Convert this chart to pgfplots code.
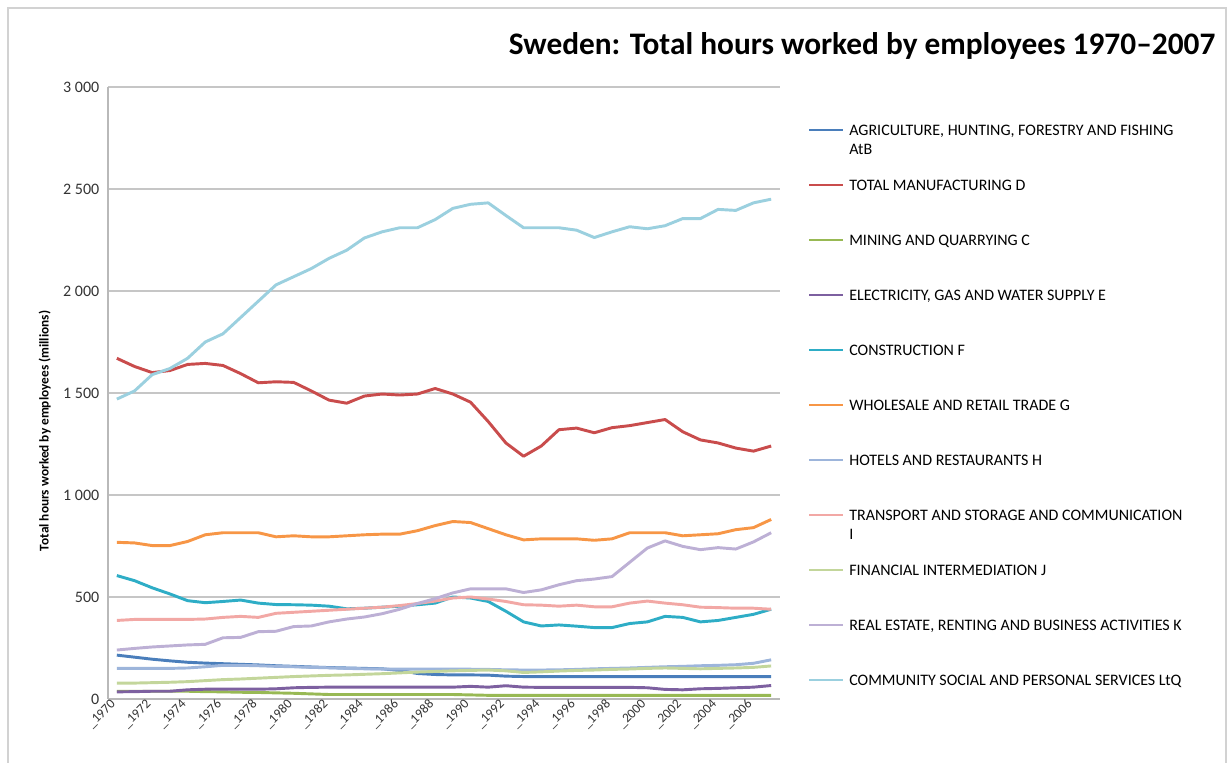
\documentclass[border=0pt]{standalone}
\usepackage{fontspec}
\setmainfont{Carlito}
\usepackage{pgfplots}
\usepackage{pgfplotstable}
\pgfplotsset{compat=1.18}

\definecolor{cAtB}{HTML}{4A7EBB}
\definecolor{cD}{HTML}{C94C4C}
\definecolor{cC}{HTML}{98B954}
\definecolor{cE}{HTML}{7D60A0}
\definecolor{cF}{HTML}{2EADC6}
\definecolor{cG}{HTML}{F79646}
\definecolor{cH}{HTML}{9DB5DB}
\definecolor{cI}{HTML}{F2A8A5}
\definecolor{cJ}{HTML}{C3D69B}
\definecolor{cK}{HTML}{BDB0D5}
\definecolor{cL}{HTML}{9BD0DF}

\pgfplotstableread{
year AtB D C E F G H I J K L
1970 215 1670 38 35 605 768 150 385 78 240 1470
1971 205 1630 38 36 580 765 150 390 78 248 1510
1972 195 1600 38 38 545 752 150 390 80 255 1590
1973 187 1610 38 38 515 752 150 390 82 260 1620
1974 180 1640 38 45 482 772 152 390 85 265 1670
1975 176 1645 36 48 472 805 158 392 90 268 1750
1976 173 1635 35 48 478 815 165 400 95 300 1790
1977 170 1595 33 48 485 815 165 405 98 302 1870
1978 167 1550 32 48 470 815 163 400 102 330 1950
1979 163 1555 30 50 463 795 160 420 106 332 2030
1980 160 1552 28 55 462 800 158 425 110 355 2070
1981 157 1510 25 57 460 795 155 430 113 358 2110
1982 154 1465 22 58 455 795 153 435 116 378 2160
1983 152 1450 22 58 442 800 150 440 118 392 2200
1984 150 1485 22 58 445 805 148 445 121 402 2260
1985 148 1495 22 58 450 808 147 450 124 418 2290
1986 140 1490 22 58 455 808 146 458 128 440 2310
1987 125 1495 22 58 462 825 146 468 132 468 2310
1988 120 1522 22 58 470 850 146 480 135 492 2350
1989 118 1495 22 58 500 870 146 495 138 520 2405
1990 118 1455 20 62 495 865 146 500 140 540 2425
1991 117 1360 18 58 478 835 145 490 142 540 2432
1992 112 1255 18 65 430 805 143 478 138 540 2370
1993 110 1190 18 58 378 780 142 462 130 522 2310
1994 110 1240 18 57 358 785 142 460 133 535 2310
1995 110 1320 18 57 363 785 143 455 137 560 2310
1996 110 1328 18 57 357 785 145 460 140 580 2298
1997 110 1305 18 57 350 778 148 452 142 588 2262
1998 110 1330 18 57 350 785 150 452 145 600 2290
1999 110 1340 18 57 370 815 152 470 147 670 2315
2000 110 1355 18 55 378 815 155 480 150 740 2305
2001 110 1370 18 47 405 815 158 470 152 775 2320
2002 110 1310 18 45 400 800 160 462 150 748 2355
2003 110 1270 18 50 378 805 163 450 148 732 2355
2004 110 1255 18 52 385 810 165 448 150 742 2400
2005 110 1230 18 55 400 830 168 445 152 735 2395
2006 110 1215 18 58 415 840 175 445 155 770 2432
2007 110 1240 18 66 440 880 192 440 162 815 2450
}\datatable

\begin{document}
\begin{tikzpicture}
\path[use as bounding box] (0pt,0pt) rectangle (924pt,572.25pt);
\draw[gray!35, line width=1pt] (6pt,-20pt) -- (6pt,566.25pt) -- (919.5pt,566.25pt) -- (919.5pt,-20pt);
\node[anchor=east, font=\fontsize{23.5}{28}\selectfont\bfseries] at (915pt,538pt) {Sweden: Total hours worked by employees 1970–2007};
\begin{axis}[
  at={(81pt,48pt)}, anchor=south west,
  scale only axis, width=504pt, height=459pt,
  xmin=1969.5, xmax=2007.5, ymin=0, ymax=3000,
  axis x line*=bottom, axis y line*=left,
  axis line style={gray!55, line width=0.8pt, -},
  major tick length=0pt,
  ymajorgrids, major grid style={gray!45, line width=0.9pt},
  ytick={0,500,1000,1500,2000,2500,3000},
  yticklabels={0,500,1 000,1 500,2 000,2 500,3 000},
  xtick={1970,1972,...,2006},
  xticklabels={\_1970,\_1972,\_1974,\_1976,\_1978,\_1980,\_1982,\_1984,\_1986,\_1988,\_1990,\_1992,\_1994,\_1996,\_1998,\_2000,\_2002,\_2004,\_2006},
  x tick label style={rotate=45, anchor=east, font=\fontsize{10}{12}\selectfont, text=black!80},
  y tick label style={font=\fontsize{12}{14}\selectfont, text=black!80, xshift=-3pt},
  ylabel={Total hours worked by employees (millions)},
  ylabel style={at={(axis description cs:-0.094,0.438)}, anchor=center, font=\fontsize{10}{12}\selectfont\bfseries},
  every axis plot/.append style={line width=2.2pt, no markers, line join=round},
  legend image code/.code={\draw[#1, line width=1.5pt] (0pt,15.6pt) -- (25.5pt,15.6pt);},
  legend cell align=left,
  legend style={at={(1.0417,0.941)}, anchor=north west, draw=none, fill=none, inner sep=0pt,
    column sep=3.75pt, row sep=0pt, font=\fontsize{12}{14.4}\selectfont,
    nodes={inner sep=0pt, text height=9pt, text depth=32.25pt}},
]
\addplot[cAtB] table[x=year,y=AtB] {\datatable};
\addlegendentry{\parbox[t]{285pt}{AGRICULTURE, HUNTING, FORESTRY AND FISHING\\AtB}}
\addplot[cD] table[x=year,y=D] {\datatable};
\addlegendentry{TOTAL MANUFACTURING D}
\addplot[cC] table[x=year,y=C] {\datatable};
\addlegendentry{MINING AND QUARRYING C}
\addplot[cE] table[x=year,y=E] {\datatable};
\addlegendentry{ELECTRICITY, GAS AND WATER SUPPLY E}
\addplot[cF] table[x=year,y=F] {\datatable};
\addlegendentry{CONSTRUCTION F}
\addplot[cG] table[x=year,y=G] {\datatable};
\addlegendentry{WHOLESALE AND RETAIL TRADE G}
\addplot[cH] table[x=year,y=H] {\datatable};
\addlegendentry{HOTELS AND RESTAURANTS H}
\addplot[cI] table[x=year,y=I] {\datatable};
\addlegendentry{\parbox[t]{285pt}{TRANSPORT AND STORAGE AND COMMUNICATION\\I}}
\addplot[cJ] table[x=year,y=J] {\datatable};
\addlegendentry{FINANCIAL INTERMEDIATION J}
\addplot[cK] table[x=year,y=K] {\datatable};
\addlegendentry{REAL ESTATE, RENTING AND BUSINESS ACTIVITIES K}
\addplot[cL] table[x=year,y=L] {\datatable};
\addlegendentry{COMMUNITY SOCIAL AND PERSONAL SERVICES LtQ}
\end{axis}
\end{tikzpicture}
\end{document}
